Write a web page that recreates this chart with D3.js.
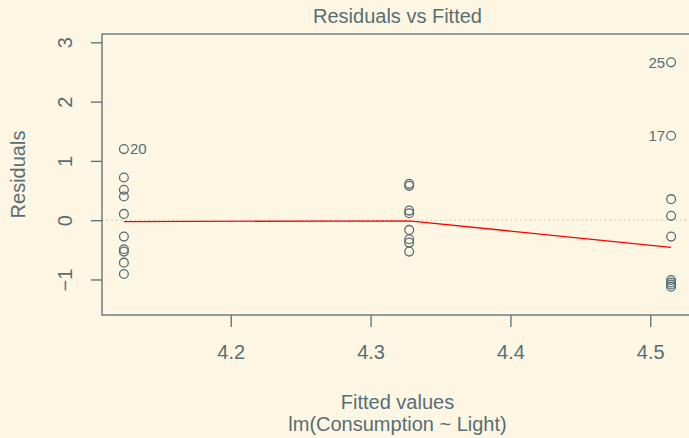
<!DOCTYPE html>
<html>
<head>
<meta charset="utf-8">
<script src="https://cdn.jsdelivr.net/npm/d3@7"></script>
<style>
  html, body { margin: 0; padding: 0; background: #fdf6e3; }
  svg { display: block; }
  text { font-family: "Liberation Sans", Arial, Helvetica, sans-serif; fill: #586e75; }
</style>
</head>
<body>
<svg id="chart" width="689" height="438"></svg>
<script>
// ---- data ----
const fittedLevels = [4.1236, 4.3276, 4.5149];
const residLow  = [1.199, 0.720, 0.512, 0.399, 0.106, -0.277, -0.490, -0.530, -0.716, -0.907];
const residMid  = [0.613, 0.579, 0.162, 0.118, -0.164, -0.321, -0.378, -0.530];
const residHigh = [2.662, 1.424, 0.355, 0.073, -0.277, -1.010, -1.050, -1.085, -1.121];
const labelIds    = ["20", "17", "25"];
const labelGroup  = [0, 2, 2];
const labelResid  = [1.199, 1.424, 2.662];
const smoothY   = [-0.024, -0.010, -0.458];
const xTicks = [4.2, 4.3, 4.4, 4.5];
const xTickLabels = ["4.2", "4.3", "4.4", "4.5"];
const yTicks = [-1, 0, 1, 2, 3];
const yTickLabels = ["\u22121", "0", "1", "2", "3"];
const title = "Residuals vs Fitted";
const xLabel = "Fitted values";
const subLabel = "lm(Consumption ~ Light)";
const yLabel = "Residuals";

// ---- build points ----
const groups = [residLow, residMid, residHigh];
const points = [];
groups.forEach((g, gi) => g.forEach(r => points.push({x: fittedLevels[gi], y: r})));

const ink = "#586e75";
const fs = "20px";
const svg = d3.select("#chart");
const plot = {left: 102, right: 693, top: 34, bottom: 315};

// R-style ranges: x extended 4%; y extended 8% (plot.lm) then 4%
function ext(lo, hi, f) { const d = hi - lo; return [lo - f * d, hi + f * d]; }
const xr = ext(d3.min(points, d => d.x), d3.max(points, d => d.x), 0.04);
const y8 = ext(d3.min(points, d => d.y), d3.max(points, d => d.y), 0.08);
const yr = ext(y8[0], y8[1], 0.04);

const x = d3.scaleLinear().domain(xr).range([plot.left, plot.right]);
const y = d3.scaleLinear().domain(yr).range([plot.bottom, plot.top]);

// smooth line
const smooth = fittedLevels.map((f, i) => [f, smoothY[i]]);
svg.append("path")
  .attr("d", d3.line().x(d => x(d[0])).y(d => y(d[1]))(smooth))
  .attr("fill", "none").attr("stroke", "#ff0000").attr("stroke-width", 1.3);

// zero reference line (dotted gray)
svg.append("line")
  .attr("x1", plot.left).attr("x2", plot.right)
  .attr("y1", y(0)).attr("y2", y(0))
  .attr("stroke", "#bebebe").attr("stroke-width", 1.2)
  .attr("stroke-dasharray", "1.2,3.5");

// points
svg.append("g").selectAll("circle").data(points).join("circle")
  .attr("cx", d => x(d.x)).attr("cy", d => y(d.y)).attr("r", 4.4)
  .attr("fill", "none").attr("stroke", ink).attr("stroke-width", 1.3);

// point id labels
const xMid = (xr[0] + xr[1]) / 2;
svg.append("g").selectAll("text").data(labelIds.map((id, i) => ({id, x: fittedLevels[labelGroup[i]], y: labelResid[i]})))
  .join("text")
  .attr("x", d => x(d.x) + (d.x < xMid ? 6 : -6))
  .attr("y", d => y(d.y))
  .attr("dy", "0.35em")
  .attr("text-anchor", d => d.x < xMid ? "start" : "end")
  .style("font-size", "15px")
  .text(d => d.id);

// box
svg.append("rect")
  .attr("x", plot.left).attr("y", plot.top)
  .attr("width", plot.right - plot.left).attr("height", plot.bottom - plot.top)
  .attr("fill", "none").attr("stroke", ink).attr("stroke-width", 1.3);

// x axis
const gx = svg.append("g").attr("transform", `translate(0,${plot.bottom})`)
  .call(d3.axisBottom(x).tickValues(xTicks).tickFormat((d, i) => xTickLabels[i]).tickSize(12));
gx.select(".domain").remove();
gx.selectAll(".tick line").attr("stroke", ink).attr("stroke-width", 1.3);
gx.selectAll(".tick text").style("font-size", fs).attr("fill", ink)
  .attr("dy", null).attr("y", 44);

// y axis
const gy = svg.append("g").attr("transform", `translate(${plot.left},0)`)
  .call(d3.axisLeft(y).tickValues(yTicks).tickFormat((d, i) => yTickLabels[i]).tickSize(11));
gy.select(".domain").remove();
gy.selectAll(".tick line").attr("stroke", ink).attr("stroke-width", 1.3);
gy.selectAll(".tick text")
  .style("font-size", fs).attr("fill", ink)
  .attr("x", null).attr("dy", null)
  .attr("text-anchor", "middle")
  .attr("transform", `translate(${72 - plot.left},0) rotate(-90)`);

// titles
svg.append("text").attr("x", (plot.left + plot.right) / 2).attr("y", 23)
  .attr("text-anchor", "middle").style("font-size", fs).text(title);
svg.append("text").attr("x", (plot.left + plot.right) / 2).attr("y", 409)
  .attr("text-anchor", "middle").style("font-size", fs).text(xLabel);
svg.append("text").attr("x", (plot.left + plot.right) / 2).attr("y", 431)
  .attr("text-anchor", "middle").style("font-size", fs).text(subLabel);
svg.append("text")
  .attr("transform", `translate(25,${(plot.top + plot.bottom) / 2}) rotate(-90)`)
  .attr("text-anchor", "middle").style("font-size", fs).text(yLabel);
</script>
</body>
</html>
